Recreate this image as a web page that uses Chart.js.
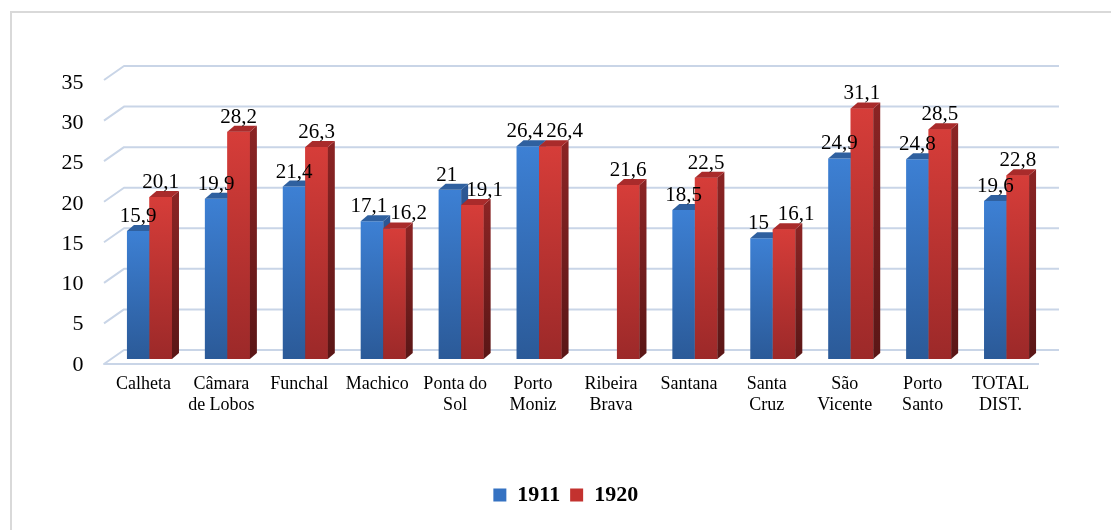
<!DOCTYPE html>
<html>
<head>
<meta charset="utf-8">
<script src="https://cdn.jsdelivr.net/npm/chart.js@4"></script>
<style>
  body { margin: 0; background: #fff; }
  canvas { display: block; }
</style>
</head>
<body>
<canvas id="grafico" width="1111" height="530"></canvas>
<script>
// dati
const categorie = [['Calheta'], ['Câmara', 'de Lobos'], ['Funchal'], ['Machico'], ['Ponta do', 'Sol'],
  ['Porto', 'Moniz'], ['Ribeira', 'Brava'], ['Santana'], ['Santa', 'Cruz'], ['São', 'Vicente'],
  ['Porto', 'Santo'], ['TOTAL', 'DIST.']];
const valori1911 = [15.9, 19.9, 21.4, 17.1, 21, 26.4, null, 18.5, 15, 24.9, 24.8, 19.6];
const valori1920 = [20.1, 28.2, 26.3, 16.2, 19.1, 26.4, 21.6, 22.5, 16.1, 31.1, 28.5, 22.8];
const nomiSerie = ['1911', '1920'];
const yMin = 0, yMax = 35, yPasso = 5;

const SERIF = "'Liberation Serif', 'Times New Roman', serif";

// colori x le facce delle barre
const stili = [
  { alto: '#3d80d4', basso: '#2b5a98', lato: ['#2c5794', '#1e3e6c'], cima: '#2f609f', legenda: '#3572c2' },
  { alto: '#d63d39', basso: '#9c2929', lato: ['#8a2424', '#5a1616'], cima: '#a92b2b', legenda: '#c3322f' }
];
const PROF_X = 7, PROF_Y = 6;      // profondità barre
const MURO_X = 20, MURO_Y = 14;    // profondità pavimento / muro

function gradiente(i) {
  return function (c) {
    const chart = c.chart;
    if (!chart.chartArea || c.type !== 'data' || c.raw == null) return stili[i].alto;
    const y = chart.scales.y;
    const g = chart.ctx.createLinearGradient(0, y.getPixelForValue(c.raw), 0, y.getPixelForValue(0));
    g.addColorStop(0, stili[i].alto);
    g.addColorStop(1, stili[i].basso);
    return g;
  };
}

function formato(v) { return String(v).replace('.', ','); }

// bordo esterno + griglia "3d"
const sfondo = {
  id: 'sfondo',
  afterLayout(chart) {
    // la legenda nell'originale è un po' spostata a destra
    chart.legend.left += 43;
    chart.legend.right += 43;
  },
  beforeDraw(chart) {
    const ctx = chart.ctx;
    ctx.save();
    ctx.strokeStyle = '#d9d9d9';
    ctx.lineWidth = 2;
    ctx.strokeRect(11, 12, 1300, 700);
    ctx.restore();
  },
  beforeDatasetsDraw(chart) {
    const ctx = chart.ctx, y = chart.scales.y, a = chart.chartArea;
    const sx = a.left - 6.5, dx = a.right - 6.5;
    ctx.save();
    ctx.strokeStyle = '#c9d5e7';
    ctx.lineWidth = 2;
    ctx.lineJoin = 'round';
    for (let v = yMin; v <= yMax; v += yPasso) {
      const yb = y.getPixelForValue(v) - 9 - (v / yMax) * 2;
      ctx.beginPath();
      if (v === 0) {
        ctx.moveTo(dx, yb + MURO_Y);
        ctx.lineTo(sx, yb + MURO_Y);
      } else {
        ctx.moveTo(sx, yb + MURO_Y);
      }
      ctx.lineTo(sx + MURO_X, yb);
      ctx.lineTo(dx + MURO_X, yb);
      ctx.stroke();
    }
    ctx.restore();
  },
  afterDatasetsDraw(chart) {
    const ctx = chart.ctx;
    const m0 = chart.getDatasetMeta(0), m1 = chart.getDatasetMeta(1);

    function lati(el, i) {
      const l = el.x - el.width / 2, r = el.x + el.width / 2, t = el.y, b = el.base;
      const g = ctx.createLinearGradient(0, t, 0, b);
      g.addColorStop(0, stili[i].lato[0]);
      g.addColorStop(1, stili[i].lato[1]);
      ctx.fillStyle = g;
      ctx.beginPath();
      ctx.moveTo(r, t); ctx.lineTo(r + PROF_X, t - PROF_Y);
      ctx.lineTo(r + PROF_X, b - PROF_Y); ctx.lineTo(r, b);
      ctx.closePath(); ctx.fill();
      ctx.fillStyle = stili[i].cima;
      ctx.beginPath();
      ctx.moveTo(l, t); ctx.lineTo(l + PROF_X, t - PROF_Y);
      ctx.lineTo(r + PROF_X, t - PROF_Y); ctx.lineTo(r, t);
      ctx.closePath(); ctx.fill();
    }

    ctx.save();
    for (let k = 0; k < categorie.length; k++) {
      if (valori1911[k] != null) lati(m0.data[k], 0);
      if (valori1920[k] != null) {
        m1.data[k].draw(ctx);
        lati(m1.data[k], 1);
      }
    }

    // etichette valori
    ctx.font = '21px ' + SERIF;
    ctx.fillStyle = '#000';
    ctx.textBaseline = 'alphabetic';
    ctx.textAlign = 'left';
    for (let k = 0; k < categorie.length; k++) {
      const a = valori1911[k], b = valori1920[k];
      let ta = null, tb = null, destraBlu = 0;
      if (a != null) {
        const el = m0.data[k], s = formato(a), w = ctx.measureText(s).width;
        ta = { s, x: el.x - w / 2, y: el.y - 9, w };
        destraBlu = el.x + el.width / 2;
      }
      if (b != null) {
        const el = m1.data[k], s = formato(b), w = ctx.measureText(s).width;
        tb = { s, x: el.x - w / 2, y: el.y - 9, w };
      }
      // se le etichette si sovrappongono, sposta quella rossa a destra
      if (ta && tb && Math.abs(ta.y - tb.y) < 18) {
        if (tb.x < ta.x + ta.w + 3) {
          ta.x -= 3;
          tb.x = Math.max(ta.x + ta.w + 3, destraBlu + 5);
        }
      }
      [ta, tb].forEach(t => { if (t) ctx.fillText(t.s, t.x, t.y); });
    }
    ctx.restore();
  }
};

const grafico = new Chart(document.getElementById('grafico'), {
  type: 'bar',
  data: {
    labels: categorie,
    datasets: [
      { label: nomiSerie[0], data: valori1911, backgroundColor: gradiente(0), borderWidth: 0 },
      { label: nomiSerie[1], data: valori1920, backgroundColor: gradiente(1), borderWidth: 0 }
    ]
  },
  options: {
    responsive: false,
    devicePixelRatio: 1,
    animation: false,
    categoryPercentage: 0.578,
    barPercentage: 1.0,
    layout: { padding: { left: 0, right: 65.5, top: 77, bottom: 14 } },
    plugins: {
      tooltip: { enabled: false },
      legend: {
        position: 'bottom',
        labels: {
          font: { family: SERIF, size: 22, weight: 'bold' },
          color: '#000',
          boxWidth: 13,
          boxHeight: 13,
          padding: 10,
          generateLabels: () => nomiSerie.map((n, i) => ({
            text: n, fillStyle: stili[i].legenda, strokeStyle: stili[i].legenda,
            lineWidth: 0, datasetIndex: i, hidden: false
          }))
        }
      }
    },
    scales: {
      x: {
        grid: { display: false },
        border: { display: false },
        ticks: {
          font: { family: SERIF, size: 18, lineHeight: 1.17 },
          color: '#000',
          padding: 7,
          labelOffset: -6,
          maxRotation: 0,
          autoSkip: false
        },
        afterFit: s => { s.height = 115; }
      },
      y: {
        min: yMin,
        max: yMax,
        grid: { display: false },
        border: { display: false },
        ticks: {
          stepSize: yPasso,
          font: { family: SERIF, size: 22 },
          color: '#000',
          padding: 19,
          labelOffset: 6
        },
        afterFit: s => { s.width = 110.5; }
      }
    }
  },
  plugins: [sfondo]
});
</script>
</body>
</html>
